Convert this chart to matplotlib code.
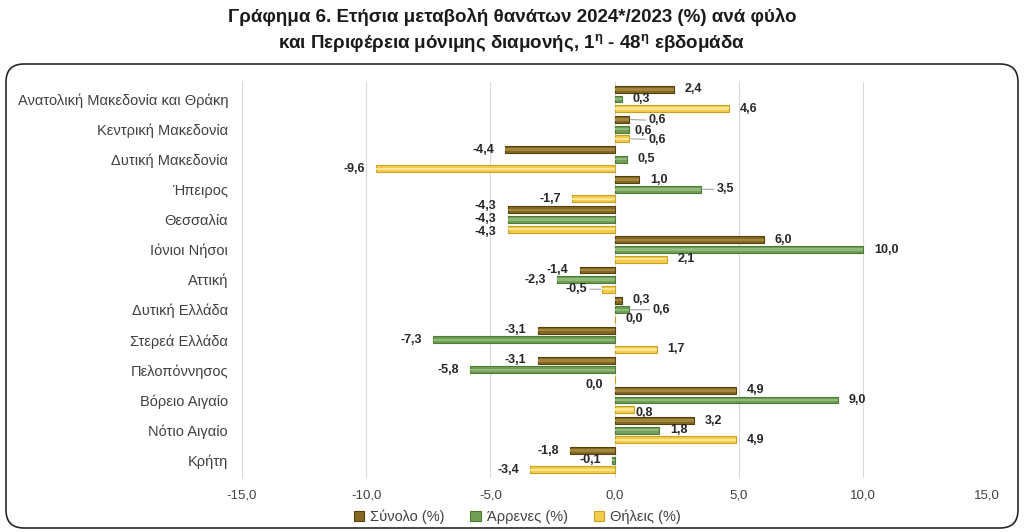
import matplotlib
matplotlib.use("Agg")
import matplotlib.pyplot as plt
import numpy as np
from matplotlib.patches import FancyBboxPatch
from matplotlib.transforms import IdentityTransform

plt.rcParams['font.family'] = ['Liberation Sans', 'DejaVu Sans']

# data
regions = ["Ανατολική Μακεδονία και Θράκη", "Κεντρική Μακεδονία", "Δυτική Μακεδονία",
           "Ήπειρος", "Θεσσαλία", "Ιόνιοι Νήσοι", "Αττική", "Δυτική Ελλάδα",
           "Στερεά Ελλάδα", "Πελοπόννησος", "Βόρειο Αιγαίο", "Νότιο Αιγαίο", "Κρήτη"]
total = [2.4, 0.6, -4.4, 1.0, -4.3, 6.0, -1.4, 0.3, -3.1, -3.1, 4.9, 3.2, -1.8]
males = [0.3, 0.6, 0.5, 3.5, -4.3, 10.0, -2.3, 0.6, -7.3, -5.8, 9.0, 1.8, -0.1]
females = [4.6, 0.6, -9.6, -1.7, -4.3, 2.1, -0.5, 0.0, 1.7, 0.0, 0.8, 4.9, -3.4]
series_names = ["Σύνολο (%)", "Άρρενες (%)", "Θήλεις (%)"]
xticks = [-15, -10, -5, 0, 5, 10, 15]

# styles: face, edge, highlight
styles = [("#846822", "#54420e", "#a3863e"),
          ("#6f9e55", "#4d7a36", "#92b97c"),
          ("#f2cc4a", "#c9a225", "#fbe590")]

# hand-moved labels in Excel: (region, series) -> (dx px, dy px, leader line)
moved = {(1, 0): (19, 1, True), (1, 1): (5, 2, False), (1, 2): (19, 1, True),
         (3, 1): (15, 0, True), (4, 0): (-11, -4, False), (4, 2): (-11, 3, False),
         (6, 2): (-15, 0, True), (7, 1): (23, 0, True), (9, 2): (-11, 5, False),
         (10, 2): (1, 3, False)}

fig = plt.figure(figsize=(10.24, 5.32), dpi=100)
ax = fig.add_axes([242/1024, 1-478/532, 745/1024, 396/532])

y = np.arange(len(regions))
off = 0.32
h = 0.23
for k, vals in enumerate([total, males, females]):
    face, edge, hi = styles[k]
    yy = y + (k - 1) * off
    ax.barh(yy, vals, height=h, color=face, edgecolor=edge, linewidth=0.8, zorder=3,
            label=series_names[k])
    ax.barh(yy, vals, height=h * 0.35, color=hi, linewidth=0, zorder=4)
    for i, v in enumerate(vals):
        txt = f"{v:.1f}".replace(".", ",")
        if (i, k) in moved:
            dx, dy, lead = moved[(i, k)]
        else:
            dx, dy, lead = (11 if v >= 0 else -11), 0, False
        ha = "left" if dx >= 0 else "right"
        ap = dict(arrowstyle="-", color="#a6a6a6", lw=0.8, shrinkA=0, shrinkB=1) if lead else None
        ax.annotate(txt, xy=(v, yy[i]), xytext=(dx * 0.72, -dy * 0.72),
                    textcoords="offset points", ha=ha, va="center",
                    fontsize=9, fontweight="bold", color="#262626",
                    arrowprops=ap, zorder=5)

ax.set_xlim(-15, 15)
ax.set_ylim(12.59, -0.565)
ax.set_xticks(xticks)
ax.set_xticklabels([f"{t:.1f}".replace(".", ",") for t in xticks], fontsize=9.5, color="#404040")
ax.set_yticks(y)
ax.set_yticklabels(regions, fontsize=10.5, color="#404040")
ax.tick_params(length=0)
ax.tick_params(axis="y", pad=10)
ax.tick_params(axis="x", pad=8)
ax.grid(axis="x", color="#d9d9d9", lw=0.8, zorder=0)
for s in ax.spines.values():
    s.set_visible(False)

fig.legend(loc="center", bbox_to_anchor=(0.505, 1 - 517/532), ncol=3, frameon=False,
           fontsize=10.5, handlelength=0.7, handleheight=0.7, columnspacing=1.8,
           handletextpad=0.4, labelcolor="#404040")

fig.text(0.5, 1 - 17/532, "Γράφημα 6. Ετήσια μεταβολή θανάτων 2024*/2023 (%) ανά φύλο",
         ha="center", va="center", fontsize=13.5, fontweight="bold", color="#1a1a1a")
fig.text(0.5, 1 - 44/532,
         r"και Περιφέρεια μόνιμης διαμονής, 1$^{\mathregular{η}}$ - 48$^{\mathregular{η}}$ εβδομάδα",
         ha="center", va="center", fontsize=13.5, fontweight="bold", color="#1a1a1a")

frame = FancyBboxPatch((6, 4), 1012, 464, boxstyle="round,pad=0,rounding_size=18",
                       transform=IdentityTransform(), fill=False, edgecolor="#262626", lw=1.2)
fig.add_artist(frame)

fig.savefig("out.png", dpi=100)
